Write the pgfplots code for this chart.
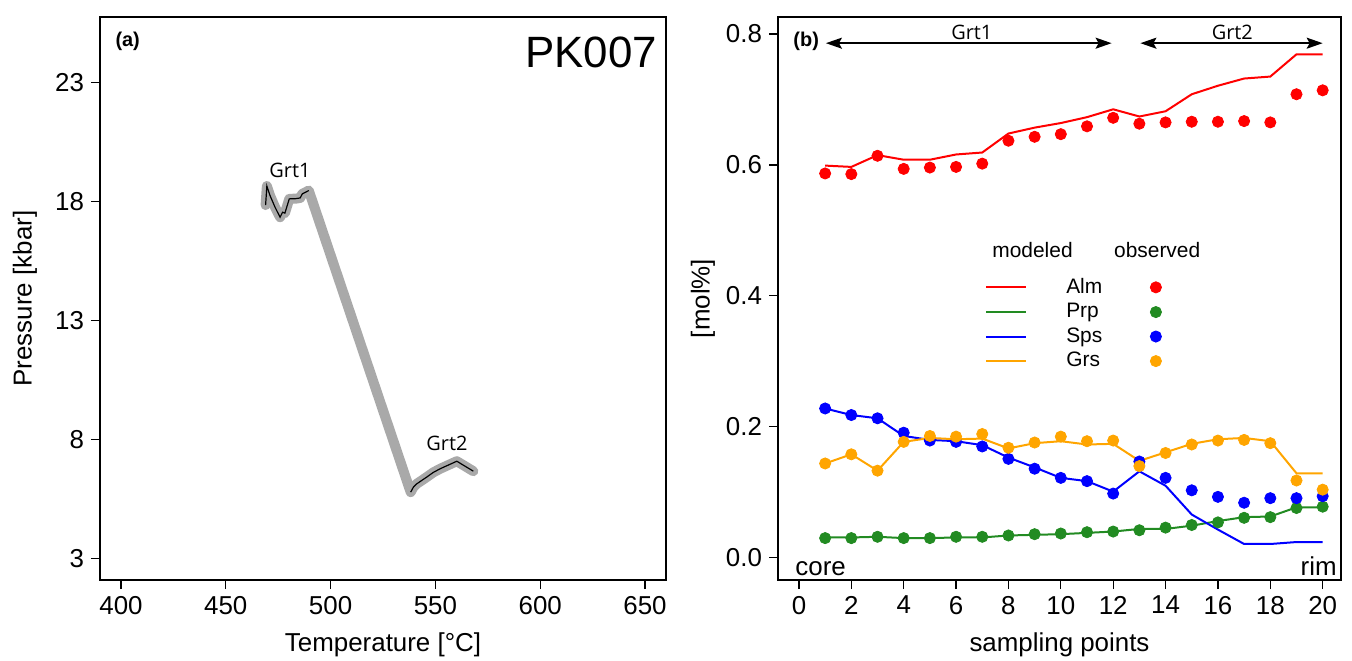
\documentclass[border=0pt]{standalone}
\usepackage{fontspec}
\setmainfont{Liberation Sans}
\newfontfamily\grtfont{Open Sans}
\usepackage{pgfplots}
\usepackage{pgfplotstable}
\pgfplotsset{compat=1.18}
\usetikzlibrary{arrows.meta}

\definecolor{rred}{HTML}{FF0000}
\definecolor{rgreen}{HTML}{228B22}
\definecolor{rblue}{HTML}{0000FF}
\definecolor{rorange}{HTML}{FFA500}
\definecolor{pathgray}{HTML}{A9A9A9}

% P-T path of garnet 1 (core part)
\pgfplotstableread{
T P
469.0 17.85
469.6 18.65
471.1 18.25
473.5 17.76
475.9 17.34
477.1 17.55
478.2 17.51
480.3 18.11
483.5 18.12
485.5 18.15
486.5 18.32
489.6 18.46
}\grtone
% P-T path of garnet 2 (rim part)
\pgfplotstableread{
T P
538.2 5.79
539.5 6.00
541.1 6.14
545.8 6.42
549.0 6.62
552.2 6.77
560.2 7.09
568.1 6.67
}\grttwo
% whole path
\pgfplotstableread{
T P
469.0 17.85
469.6 18.65
471.1 18.25
473.5 17.76
475.9 17.34
477.1 17.55
478.2 17.51
480.3 18.11
483.5 18.12
485.5 18.15
486.5 18.32
489.6 18.46
538.2 5.79
539.5 6.00
541.1 6.14
545.8 6.42
549.0 6.62
552.2 6.77
560.2 7.09
568.1 6.67
}\grtall

% profiles: modeled (m) and observed (o)
\pgfplotstableread{
x almm almo prpm prpo spsm spso grsm grso
1  0.599 0.587 0.031 0.030 0.228 0.228 0.144 0.144
2  0.597 0.586 0.031 0.030 0.218 0.218 0.158 0.158
3  0.615 0.614 0.032 0.032 0.213 0.213 0.133 0.133
4  0.608 0.594 0.030 0.030 0.186 0.191 0.177 0.177
5  0.608 0.596 0.030 0.030 0.180 0.179 0.183 0.186
6  0.616 0.597 0.031 0.032 0.178 0.177 0.181 0.185
7  0.619 0.602 0.031 0.032 0.172 0.170 0.182 0.189
8  0.648 0.637 0.034 0.034 0.153 0.151 0.167 0.168
9  0.657 0.643 0.035 0.036 0.138 0.136 0.175 0.176
10 0.664 0.647 0.036 0.037 0.122 0.122 0.178 0.185
11 0.673 0.659 0.038 0.039 0.117 0.117 0.173 0.178
12 0.685 0.672 0.040 0.040 0.101 0.098 0.174 0.179
13 0.674 0.663 0.044 0.042 0.132 0.147 0.148 0.140
14 0.682 0.665 0.044 0.046 0.110 0.122 0.161 0.160
15 0.708 0.666 0.049 0.050 0.066 0.103 0.174 0.173
16 0.721 0.666 0.056 0.054 0.043 0.093 0.181 0.179
17 0.732 0.667 0.062 0.061 0.021 0.084 0.183 0.180
18 0.735 0.665 0.063 0.062 0.021 0.091 0.178 0.175
19 0.769 0.708 0.077 0.076 0.024 0.091 0.129 0.118
20 0.769 0.714 0.077 0.078 0.024 0.094 0.129 0.104
}\prof

\pgfplotsset{
  rstyle/.style={
    scale only axis,
    axis line style={line width=0.8bp},
    tick style={line width=0.6bp, black},
    tick align=outside,
    major tick length=4.5bp,
    xtick pos=bottom, ytick pos=left,
    ticklabel style={font=\fontsize{13}{15}\selectfont},
    label style={font=\fontsize{13}{15}\selectfont},
    /pgf/number format/assume math mode=true,
    clip=false,
  },
  lineleg/.style={legend image code/.code={\draw[##1] (0bp,0bp) -- (20bp,0bp);}},
  dotleg/.style={legend image code/.code={\draw[##1] plot coordinates {(0bp,0bp)};}},
}

\begin{document}
\begin{tikzpicture}
\path[use as bounding box] (-50bp,-40.5bp) rectangle (626bp,290bp);

% ---------------- panel (a) ----------------
\begin{axis}[rstyle, at={(0bp,0bp)}, anchor=south west,
  width=283bp, height=281.5bp,
  xmin=390, xmax=660, ymin=2.1, ymax=25.75,
  xtick={400,450,500,550,600,650}, ytick={3,8,13,18,23},
  xlabel={Temperature [°C]}, ylabel={Pressure [kbar]},
  xlabel style={at={(axis description cs:0.5,-0.1155)}, anchor=center},
  ylabel style={at={(axis description cs:-0.1325,0.5)}, anchor=center},
]
\addplot[pathgray, line width=5bp, line cap=round, line join=round] table[x=T,y=P] {\grtall};
\addplot[black, line width=0.6bp] table[x=T,y=P] {\grtone};
\addplot[black, line width=0.6bp] table[x=T,y=P] {\grttwo};
\node[font=\grtfont\fontsize{10}{12}\selectfont] at (axis cs:480.6,19.3) {Grt1};
\node[font=\grtfont\fontsize{10}{12}\selectfont] at (axis cs:555.5,7.85) {Grt2};
\node[font=\bfseries\fontsize{10}{12}\selectfont, anchor=north west] at (rel axis cs:0.015,0.985) {(a)};
\node[font=\fontsize{22}{26}\selectfont, anchor=north east, inner sep=0pt] at (rel axis cs:0.985,0.965) {PK007};
\end{axis}

% ---------------- panel (b) ----------------
\begin{axis}[rstyle, at={(339bp,0bp)}, anchor=south west,
  width=281.5bp, height=281.5bp,
  xmin=-0.8, xmax=20.7, ymin=-0.034, ymax=0.826,
  xtick={0,2,4,6,8,10,12,14,16,18,20}, ytick={0,0.2,0.4,0.6,0.8},
  yticklabel style={/pgf/number format/.cd, fixed, fixed zerofill, precision=1},
  xlabel={sampling points}, ylabel={[mol\%]},
  xlabel style={at={(axis description cs:0.5,-0.1155)}, anchor=center},
  ylabel style={at={(axis description cs:-0.1332,0.5)}, anchor=center},
  legend columns=2,
  legend style={draw=none, fill=none, inner sep=0pt,
    at={(axis cs:7.1,0.4336)}, anchor=north west,
    font=\fontsize{10.5}{12}\selectfont, row sep=-0.5bp,
    /tikz/column 1/.style={column sep=17.5bp},
    /tikz/column 2/.style={column sep=22bp}},
  legend cell align=left,
]
\addplot[rred, line width=1bp, lineleg] table[x=x,y=almm] {\prof};
\addlegendentry{Alm}
\addplot[rred, only marks, mark=*, mark size=2.8bp, dotleg] table[x=x,y=almo] {\prof};
\addlegendentry{\mbox{}}
\addplot[rgreen, line width=1bp, lineleg] table[x=x,y=prpm] {\prof};
\addlegendentry{Prp}
\addplot[rgreen, only marks, mark=*, mark size=2.8bp, dotleg] table[x=x,y=prpo] {\prof};
\addlegendentry{\mbox{}}
\addplot[rblue, line width=1bp, lineleg] table[x=x,y=spsm] {\prof};
\addlegendentry{Sps}
\addplot[rblue, only marks, mark=*, mark size=2.8bp, dotleg] table[x=x,y=spso] {\prof};
\addlegendentry{\mbox{}}
\addplot[rorange, line width=1bp, lineleg] table[x=x,y=grsm] {\prof};
\addlegendentry{Grs}
\addplot[rorange, only marks, mark=*, mark size=2.8bp, dotleg] table[x=x,y=grso] {\prof};
\addlegendentry{\mbox{}}

\node[font=\fontsize{10.5}{12}\selectfont] at (axis cs:8.92,0.470) {modeled};
\node[font=\fontsize{10.5}{12}\selectfont] at (axis cs:13.68,0.470) {observed};

\draw[line width=0.9bp, {Stealth[length=8bp,width=5.5bp,inset=1.5bp]}-{Stealth[length=8bp,width=5.5bp,inset=1.5bp]}]
  (axis cs:1.03,0.786) -- (axis cs:11.94,0.786);
\draw[line width=0.9bp, {Stealth[length=8bp,width=5.5bp,inset=1.5bp]}-{Stealth[length=8bp,width=5.5bp,inset=1.5bp]}]
  (axis cs:13.04,0.786) -- (axis cs:20.0,0.786);
\node[font=\grtfont\fontsize{10}{12}\selectfont] at (axis cs:6.6,0.803) {Grt1};
\node[font=\grtfont\fontsize{10}{12}\selectfont] at (axis cs:16.55,0.803) {Grt2};

\node[font=\bfseries\fontsize{10}{12}\selectfont, anchor=north west] at (rel axis cs:0.015,0.985) {(b)};
\node[font=\fontsize{13}{15}\selectfont, anchor=south west, inner sep=2bp, xshift=6.5bp] at (rel axis cs:0.0,0.0) {core};
\node[font=\fontsize{13}{15}\selectfont, anchor=south east, inner sep=2bp] at (rel axis cs:1.0,0.0) {rim};
\end{axis}
\end{tikzpicture}
\end{document}
